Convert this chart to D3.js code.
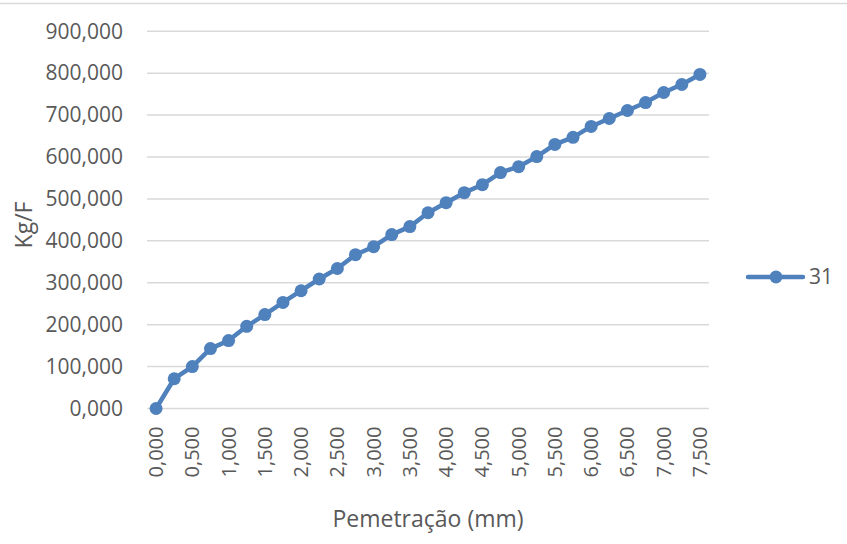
<!DOCTYPE html>
<html>
<head>
<meta charset="utf-8">
<script src="https://cdn.jsdelivr.net/npm/d3@7"></script>
<style>
  html, body { margin: 0; padding: 0; background: #fff; }
  svg { display: block; }
  text { font-family: "Open Sans", "Noto Sans", sans-serif; fill: #595959; }
</style>
</head>
<body>
<svg id="chart" width="847" height="544"></svg>
<script>
const categories = [0.00, 0.25, 0.50, 0.75, 1.00, 1.25, 1.50, 1.75, 2.00, 2.25, 2.50, 2.75, 3.00, 3.25, 3.50, 3.75,
                    4.00, 4.25, 4.50, 4.75, 5.00, 5.25, 5.50, 5.75, 6.00, 6.25, 6.50, 6.75, 7.00, 7.25, 7.50];
const values = [0, 71, 100, 143, 162, 196, 224, 253, 281, 309, 334, 367, 386, 415, 434, 467,
                491, 515, 534, 563, 577, 601, 630, 647, 673, 692, 711, 730, 754, 773, 797];
const xTickLabels = [0.0, 0.5, 1.0, 1.5, 2.0, 2.5, 3.0, 3.5, 4.0, 4.5, 5.0, 5.5, 6.0, 6.5, 7.0, 7.5];
const yTicks = [0, 100, 200, 300, 400, 500, 600, 700, 800, 900];
const seriesName = "31";
const xTitle = "Pemetração (mm)";
const yTitle = "Kg/F";

const blue = "#4F81BD";
const grid = "#D9D9D9";
const fmt = v => d3.format(".3f")(v).replace(".", ",");

const svg = d3.select("#chart");
const plot = { left: 147, right: 709, top: 31.3, bottom: 408.5 };

const x = d3.scaleBand().domain(categories).range([plot.left, plot.right]).paddingInner(0).paddingOuter(0);
const cx = d => x(d) + x.bandwidth() / 2;
const y = d3.scaleLinear().domain([0, 900]).range([plot.bottom, plot.top]);

// chart border (top edge visible)
svg.append("line").attr("x1", 0).attr("x2", 847).attr("y1", 3.5).attr("y2", 3.5)
  .attr("stroke", grid).attr("stroke-width", 1.5);

// gridlines
svg.append("g").selectAll("line").data(yTicks).join("line")
  .attr("x1", plot.left).attr("x2", plot.right)
  .attr("y1", d => y(d)).attr("y2", d => y(d))
  .attr("stroke", grid).attr("stroke-width", 1.5);

// y axis labels
const yAxis = d3.axisLeft(y).tickValues(yTicks).tickFormat(fmt).tickSize(0).tickPadding(0);
const gy = svg.append("g").attr("transform", `translate(123,0)`).call(yAxis);
gy.select(".domain").remove();
gy.selectAll("text").attr("font-size", 21).attr("font-family", '"Open Sans", sans-serif').attr("fill", "#595959");

// x axis labels
const xAxis = d3.axisBottom(x).tickValues(xTickLabels.map(v => categories.find(c => Math.abs(c - v) < 1e-9)))
  .tickFormat(fmt).tickSize(0).tickPadding(0);
const gx = svg.append("g").attr("transform", `translate(0,${plot.bottom})`).call(xAxis);
gx.select(".domain").remove();
gx.selectAll("text")
  .attr("font-size", 20).attr("font-family", '"Open Sans", sans-serif').attr("fill", "#595959")
  .attr("text-anchor", "end")
  .attr("dy", "0.35em")
  .attr("transform", "translate(0,18) rotate(-90)")
  .attr("x", 0).attr("y", 0);

// line
const line = d3.line().x((d, i) => cx(categories[i])).y(d => y(d));
svg.append("path").datum(values).attr("d", line)
  .attr("fill", "none").attr("stroke", blue).attr("stroke-width", 4.5).attr("stroke-linejoin", "round");
svg.append("g").selectAll("circle").data(values).join("circle")
  .attr("cx", (d, i) => cx(categories[i])).attr("cy", d => y(d)).attr("r", 6.5).attr("fill", blue);

// axis titles
svg.append("text").attr("x", (plot.left + plot.right) / 2).attr("y", 527)
  .attr("text-anchor", "middle").attr("font-size", 23).text(xTitle);
svg.append("text").attr("transform", `translate(32,225) rotate(-90)`)
  .attr("text-anchor", "middle").attr("font-size", 23).text(yTitle);

// legend
const lg = svg.append("g").attr("transform", "translate(748,277)");
lg.append("line").attr("x1", 0).attr("x2", 55).attr("y1", 0).attr("y2", 0)
  .attr("stroke", blue).attr("stroke-width", 4.5).attr("stroke-linecap", "round");
lg.append("circle").attr("cx", 28).attr("cy", 0).attr("r", 6.5).attr("fill", blue);
lg.append("text").attr("x", 61).attr("y", 0).attr("dy", "0.35em").attr("font-size", 21).text(seriesName);
</script>
</body>
</html>
